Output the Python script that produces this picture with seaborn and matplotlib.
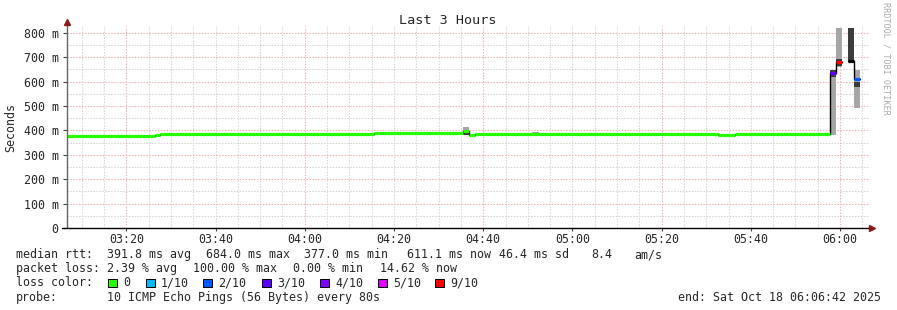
import numpy as np
import pandas as pd
import matplotlib
matplotlib.use("Agg")
import matplotlib.pyplot as plt
from matplotlib.patches import Rectangle
import seaborn as sns

# ---------------- data ----------------
title = "Last 3 Hours"
y_label = "Seconds"
x_start_min = 186.7          # 03:06:42 (minutes after midnight)
x_end_min = 366.7            # 06:06:42
x_tick_min = [200, 220, 240, 260, 280, 300, 320, 340, 360]
x_tick_labels = ["03:20", "03:40", "04:00", "04:20", "04:40",
                 "05:00", "05:20", "05:40", "06:00"]
y_tick_vals = [0, 100, 200, 300, 400, 500, 600, 700, 800]
y_tick_labels = ["0", "100 m", "200 m", "300 m", "400 m",
                 "500 m", "600 m", "700 m", "800 m"]
y_top = 828

# median rtt (ms) per time segment, with packet-loss class
seg_start = [186.7, 206.4, 207.5, 255.5, 275.4, 276.8, 278.2, 332.7, 336.5,
             357.8, 359.1, 360.5, 361.8, 363.1]
seg_end = [206.4, 207.5, 255.5, 275.4, 276.8, 278.2, 332.7, 336.5, 357.8,
           359.1, 360.5, 361.8, 363.1, 364.5]
seg_median = [377, 381, 384, 388, 397, 381, 384, 380, 384,
              635, 681, np.nan, 684, 611]
seg_loss = ["0", "0", "0", "0", "0", "0", "0", "0", "0",
            "3/10", "9/10", "10/10", "n/a", "2/10"]

# smoke (spread of the individual pings)
smoke_start = [275.4, 290.9, 357.8, 359.1, 361.8, 363.1]
smoke_end = [276.8, 292.5, 359.1, 360.5, 363.1, 364.5]
smoke_lo = [381, 388, 381, 658, 684, 493]
smoke_hi = [415, 394, 648, 820, 820, 648]
core_lo = [381, 388, 620, 666, 684, 578]
core_hi = [393, 388, 648, 692, 820, 600]

loss_labels = ["0", "1/10", "2/10", "3/10", "4/10", "5/10", "9/10"]
loss_colors = ["#26ff00", "#00b8ff", "#0059ff", "#5e00ff", "#7e00ff", "#dd00ff", "#ff0000"]

stats_rtt = ["median rtt:", "391.8 ms avg", "684.0 ms max", "377.0 ms min",
             "611.1 ms now", "46.4 ms sd", "8.4", "am/s"]
stats_loss = ["packet loss:", "2.39 % avg", "100.00 % max", "0.00 % min", "14.62 % now"]
probe_text = ["probe:", "10 ICMP Echo Pings (56 Bytes) every 80s"]
end_text = "end: Sat Oct 18 06:06:42 2025"
credit = "RRDTOOL / TOBI OETIKER"

# ---------------- drawing ----------------
W, H = 897, 310
sns.set_theme(style="white")
plt.rcParams["font.family"] = ["DejaVu Sans Mono", "DejaVu Sans"]
FS = 8.35

fig = plt.figure(figsize=(W / 100, H / 100), dpi=100)
fig.patch.set_facecolor("white")
L, R, B, T = 67, 870, 228, 26
ax = fig.add_axes([L / W, 1 - B / H, (R - L) / W, (B - T) / H])
ax.set_facecolor("white")
ax.set_xlim(x_start_min, x_end_min)
ax.set_ylim(0, y_top)

# grid
GRID_LS = (0, (1.4, 1.4))
minor_y = [v for v in np.arange(50, y_top, 50) if v % 100 != 0]
for v in minor_y:
    ax.axhline(v, color="#d2d2d2", lw=0.75, ls=GRID_LS, zorder=0)
for v in y_tick_vals[1:]:
    ax.axhline(v, color="#f3b0b0", lw=0.75, ls=GRID_LS, zorder=0.5)
major_x = [200, 240, 280, 320, 360]
minor_x = [v for v in np.arange(190, x_end_min, 5) if v not in major_x]
for v in minor_x:
    ax.axvline(v, color="#d6d6d6", lw=0.75, ls=GRID_LS, zorder=0)
for v in major_x:
    ax.axvline(v, color="#f3b0b0", lw=0.75, ls=GRID_LS, zorder=0.5)

# smoke
sw = np.array(smoke_end) - np.array(smoke_start)
ax.bar(smoke_start, np.array(smoke_hi) - np.array(smoke_lo), width=sw,
       bottom=smoke_lo, align="edge", color="#a6a6a6", linewidth=0, zorder=2)
ax.bar(smoke_start, np.array(core_hi) - np.array(core_lo), width=sw,
       bottom=core_lo, align="edge", color="#3c3c3c", linewidth=0, zorder=2.1)

# black step connectors
ax.step(seg_start + [seg_end[-1]], seg_median + [seg_median[-1]], where="post",
        color="black", lw=1.0, zorder=3)

# coloured median segments (seaborn)
rows = []
for i, (s, e, m, l) in enumerate(zip(seg_start, seg_end, seg_median, seg_loss)):
    if np.isnan(m):
        continue
    rows.append(dict(seg=i, t=s, rtt=m, loss=l))
    rows.append(dict(seg=i, t=e, rtt=m, loss=l))
df = pd.DataFrame(rows)
palette = dict(zip(loss_labels, loss_colors))
palette["10/10"] = "#000000"
palette["n/a"] = "#000000"
sns.lineplot(data=df, x="t", y="rtt", hue="loss", units="seg", estimator=None,
             palette=palette, linewidth=2.3, legend=False, sort=False, ax=ax,
             solid_capstyle="butt", zorder=4)
ax.set_xlabel("")
ax.set_ylabel("")

# ticks
ax.set_xticks(x_tick_min)
ax.set_xticklabels(x_tick_labels, fontsize=FS)
ax.set_yticks(y_tick_vals)
ax.set_yticklabels(y_tick_labels, fontsize=FS)
ax.tick_params(axis="y", length=3, width=0.8, color="#444444", pad=3, left=True)
ax.tick_params(axis="x", length=2, width=0.8, color="#444444", pad=1.5, bottom=True)
for sp in ax.spines.values():
    sp.set_visible(False)

# axes with arrows
ax.plot([0, 0], [0, 1.02], transform=ax.transAxes, color="#666666", lw=1.0, clip_on=False, zorder=5)
ax.plot([-0.006, 1.002], [0, 0], transform=ax.transAxes, color="black", lw=1.0, clip_on=False, zorder=5)
ax.plot([0], [1.022], marker="^", markersize=4.5, color="#8b1a1a", transform=ax.transAxes, clip_on=False, zorder=6)
ax.plot([1.003], [0], marker=">", markersize=4.5, color="#8b1a1a", transform=ax.transAxes, clip_on=False, zorder=6)

# texts
def ftext(x, y, s, **kw):
    kw.setdefault("fontsize", FS)
    kw.setdefault("va", "baseline")
    kw.setdefault("ha", "left")
    fig.text(x / W, 1 - y / H, s, **kw)

ftext(448, 24, title, fontsize=9.7, ha="center")
ftext(11, 127, y_label, rotation=90, ha="center", va="center")
ftext(886, 58, credit, rotation=270, fontsize=6.1, color="#aaaaaa", ha="center", va="center")

rtt_x = [16, 107, 206, 304, 407, 499, 591, 634]
for s, x in zip(stats_rtt, rtt_x):
    ftext(x, 258, s)
loss_x = [16, 107, 193, 293, 380]
for s, x in zip(stats_loss, loss_x):
    ftext(x, 272, s)
ftext(16, 286.5, "loss color:")
box_x = [108, 146, 203, 262, 320, 378, 435]
for lab, col, bx in zip(loss_labels, loss_colors, box_x):
    fig.patches.append(Rectangle((bx / W, 1 - 287 / H), 8.5 / W, 8.5 / H,
                                 transform=fig.transFigure, facecolor=col,
                                 edgecolor="black", linewidth=0.7))
    ftext(bx + 15, 286.5, lab)
ftext(16, 301, probe_text[0])
ftext(107, 301, probe_text[1])
ftext(881, 301, end_text, ha="right")

fig.savefig("out.png", dpi=100, facecolor="white")
